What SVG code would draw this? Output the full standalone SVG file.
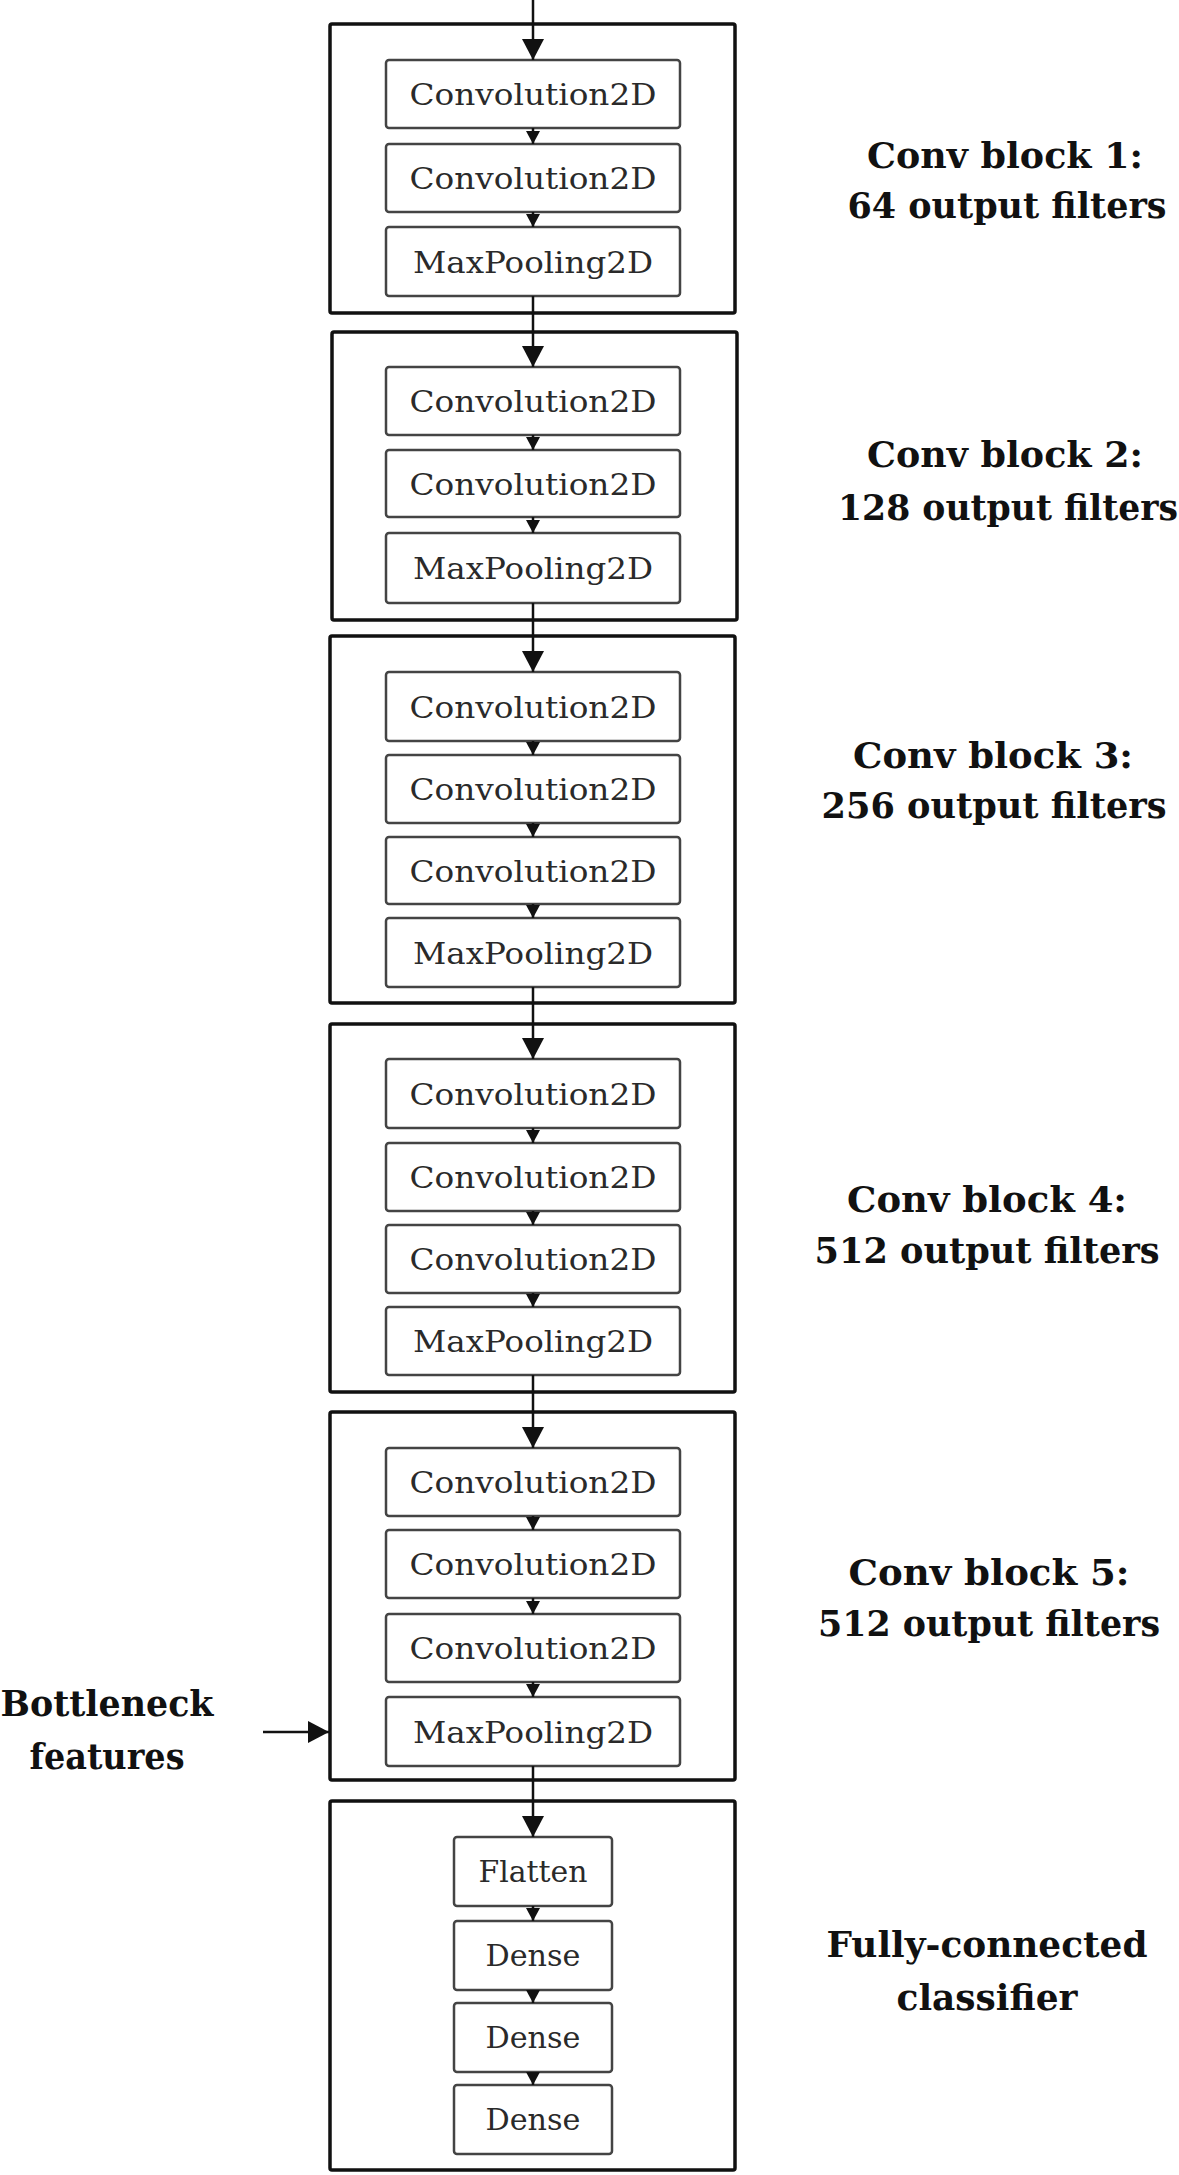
<svg xmlns="http://www.w3.org/2000/svg" width="1179" height="2175" viewBox="0 0 1179 2175">
<defs>
<style>
.outer{fill:#fff;stroke:#111;stroke-width:3.5}
.inner{fill:#fff;stroke:#444;stroke-width:2.5}
.lt{font-family:"DejaVu Serif","Liberation Serif",serif;font-size:29px;fill:#2a2a2a;text-anchor:middle}
.lab{font-family:"DejaVu Serif","Liberation Serif",serif;font-size:35px;font-weight:bold;fill:#111;text-anchor:middle}
.con{stroke:#111;stroke-width:2.5;fill:none}
</style>
<marker id="big" markerUnits="userSpaceOnUse" markerWidth="22" markerHeight="22" refX="21" refY="11" orient="auto" viewBox="0 0 22 22"><path d="M0,0 L21,11 L0,22 z" fill="#111"/></marker>
<marker id="small" markerUnits="userSpaceOnUse" markerWidth="13" markerHeight="14" refX="13" refY="7" orient="auto" viewBox="0 0 13 14"><path d="M0,0 L13,7 L0,14 z" fill="#111"/></marker>
</defs>
<rect width="1179" height="2175" fill="#fff"/>

<g id="block1">
<rect class="outer" x="330" y="24" width="405" height="289" rx="2"/>
<g id="b1n1"><rect class="inner" x="386" y="60" width="294" height="68" rx="3"/><text class="lt" x="533" y="105" textLength="247" lengthAdjust="spacingAndGlyphs">Convolution2D</text></g>
<g id="b1n2"><rect class="inner" x="386" y="144" width="294" height="68" rx="3"/><text class="lt" x="533" y="189" textLength="247" lengthAdjust="spacingAndGlyphs">Convolution2D</text></g>
<g id="b1n3"><rect class="inner" x="386" y="227" width="294" height="69" rx="3"/><text class="lt" x="533" y="273" textLength="240" lengthAdjust="spacingAndGlyphs">MaxPooling2D</text></g>
</g>

<g id="block2">
<rect class="outer" x="332" y="332" width="405" height="288" rx="2"/>
<g id="b2n1"><rect class="inner" x="386" y="367" width="294" height="68" rx="3"/><text class="lt" x="533" y="412" textLength="247" lengthAdjust="spacingAndGlyphs">Convolution2D</text></g>
<g id="b2n2"><rect class="inner" x="386" y="450" width="294" height="67" rx="3"/><text class="lt" x="533" y="495" textLength="247" lengthAdjust="spacingAndGlyphs">Convolution2D</text></g>
<g id="b2n3"><rect class="inner" x="386" y="533" width="294" height="70" rx="3"/><text class="lt" x="533" y="579" textLength="240" lengthAdjust="spacingAndGlyphs">MaxPooling2D</text></g>
</g>

<g id="block3">
<rect class="outer" x="330" y="636" width="405" height="367" rx="2"/>
<g id="b3n1"><rect class="inner" x="386" y="672" width="294" height="69" rx="3"/><text class="lt" x="533" y="718" textLength="247" lengthAdjust="spacingAndGlyphs">Convolution2D</text></g>
<g id="b3n2"><rect class="inner" x="386" y="755" width="294" height="68" rx="3"/><text class="lt" x="533" y="800" textLength="247" lengthAdjust="spacingAndGlyphs">Convolution2D</text></g>
<g id="b3n3"><rect class="inner" x="386" y="837" width="294" height="67" rx="3"/><text class="lt" x="533" y="882" textLength="247" lengthAdjust="spacingAndGlyphs">Convolution2D</text></g>
<g id="b3n4"><rect class="inner" x="386" y="918" width="294" height="69" rx="3"/><text class="lt" x="533" y="964" textLength="240" lengthAdjust="spacingAndGlyphs">MaxPooling2D</text></g>
</g>

<g id="block4">
<rect class="outer" x="330" y="1024" width="405" height="368" rx="2"/>
<g id="b4n1"><rect class="inner" x="386" y="1059" width="294" height="69" rx="3"/><text class="lt" x="533" y="1105" textLength="247" lengthAdjust="spacingAndGlyphs">Convolution2D</text></g>
<g id="b4n2"><rect class="inner" x="386" y="1143" width="294" height="68" rx="3"/><text class="lt" x="533" y="1188" textLength="247" lengthAdjust="spacingAndGlyphs">Convolution2D</text></g>
<g id="b4n3"><rect class="inner" x="386" y="1225" width="294" height="68" rx="3"/><text class="lt" x="533" y="1270" textLength="247" lengthAdjust="spacingAndGlyphs">Convolution2D</text></g>
<g id="b4n4"><rect class="inner" x="386" y="1307" width="294" height="68" rx="3"/><text class="lt" x="533" y="1352" textLength="240" lengthAdjust="spacingAndGlyphs">MaxPooling2D</text></g>
</g>

<g id="block5">
<rect class="outer" x="330" y="1412" width="405" height="368" rx="2"/>
<g id="b5n1"><rect class="inner" x="386" y="1448" width="294" height="68" rx="3"/><text class="lt" x="533" y="1493" textLength="247" lengthAdjust="spacingAndGlyphs">Convolution2D</text></g>
<g id="b5n2"><rect class="inner" x="386" y="1530" width="294" height="68" rx="3"/><text class="lt" x="533" y="1575" textLength="247" lengthAdjust="spacingAndGlyphs">Convolution2D</text></g>
<g id="b5n3"><rect class="inner" x="386" y="1614" width="294" height="68" rx="3"/><text class="lt" x="533" y="1659" textLength="247" lengthAdjust="spacingAndGlyphs">Convolution2D</text></g>
<g id="b5n4"><rect class="inner" x="386" y="1697" width="294" height="69" rx="3"/><text class="lt" x="533" y="1743" textLength="240" lengthAdjust="spacingAndGlyphs">MaxPooling2D</text></g>
</g>

<g id="block6">
<rect class="outer" x="330" y="1801" width="405" height="369" rx="2"/>
<g id="b6n1"><rect class="inner" x="454" y="1837" width="158" height="69" rx="3"/><text class="lt" x="533" y="1882" textLength="109" lengthAdjust="spacingAndGlyphs">Flatten</text></g>
<g id="b6n2"><rect class="inner" x="454" y="1921" width="158" height="69" rx="3"/><text class="lt" x="533" y="1966" textLength="95" lengthAdjust="spacingAndGlyphs">Dense</text></g>
<g id="b6n3"><rect class="inner" x="454" y="2003" width="158" height="69" rx="3"/><text class="lt" x="533" y="2048" textLength="95" lengthAdjust="spacingAndGlyphs">Dense</text></g>
<g id="b6n4"><rect class="inner" x="454" y="2085" width="158" height="69" rx="3"/><text class="lt" x="533" y="2130" textLength="95" lengthAdjust="spacingAndGlyphs">Dense</text></g>
</g>

<g id="connectors">
<line class="con" x1="533" y1="0" x2="533" y2="60" marker-end="url(#big)"/>
<line class="con" x1="533" y1="128" x2="533" y2="144" marker-end="url(#small)"/>
<line class="con" x1="533" y1="212" x2="533" y2="227" marker-end="url(#small)"/>
<line class="con" x1="533" y1="296" x2="533" y2="367" marker-end="url(#big)"/>
<line class="con" x1="533" y1="435" x2="533" y2="450" marker-end="url(#small)"/>
<line class="con" x1="533" y1="517" x2="533" y2="533" marker-end="url(#small)"/>
<line class="con" x1="533" y1="603" x2="533" y2="672" marker-end="url(#big)"/>
<line class="con" x1="533" y1="741" x2="533" y2="755" marker-end="url(#small)"/>
<line class="con" x1="533" y1="823" x2="533" y2="837" marker-end="url(#small)"/>
<line class="con" x1="533" y1="904" x2="533" y2="918" marker-end="url(#small)"/>
<line class="con" x1="533" y1="987" x2="533" y2="1059" marker-end="url(#big)"/>
<line class="con" x1="533" y1="1128" x2="533" y2="1143" marker-end="url(#small)"/>
<line class="con" x1="533" y1="1211" x2="533" y2="1225" marker-end="url(#small)"/>
<line class="con" x1="533" y1="1293" x2="533" y2="1307" marker-end="url(#small)"/>
<line class="con" x1="533" y1="1375" x2="533" y2="1448" marker-end="url(#big)"/>
<line class="con" x1="533" y1="1516" x2="533" y2="1530" marker-end="url(#small)"/>
<line class="con" x1="533" y1="1598" x2="533" y2="1614" marker-end="url(#small)"/>
<line class="con" x1="533" y1="1682" x2="533" y2="1697" marker-end="url(#small)"/>
<line class="con" x1="533" y1="1766" x2="533" y2="1837" marker-end="url(#big)"/>
<line class="con" x1="533" y1="1906" x2="533" y2="1921" marker-end="url(#small)"/>
<line class="con" x1="533" y1="1990" x2="533" y2="2003" marker-end="url(#small)"/>
<line class="con" x1="533" y1="2072" x2="533" y2="2085" marker-end="url(#small)"/>
<line class="con" x1="263" y1="1732" x2="329" y2="1732" marker-end="url(#big)"/>
</g>

<g id="labels">
<text class="lab" x="1005" y="168" textLength="276" lengthAdjust="spacingAndGlyphs">Conv block 1:</text>
<text class="lab" x="1007" y="218" textLength="319" lengthAdjust="spacingAndGlyphs">64 output filters</text>
<text class="lab" x="1005" y="467" textLength="276" lengthAdjust="spacingAndGlyphs">Conv block 2:</text>
<text class="lab" x="1008" y="520" textLength="340" lengthAdjust="spacingAndGlyphs">128 output filters</text>
<text class="lab" x="993" y="768" textLength="280" lengthAdjust="spacingAndGlyphs">Conv block 3:</text>
<text class="lab" x="994" y="818" textLength="345" lengthAdjust="spacingAndGlyphs">256 output filters</text>
<text class="lab" x="987" y="1212" textLength="280" lengthAdjust="spacingAndGlyphs">Conv block 4:</text>
<text class="lab" x="987" y="1263" textLength="345" lengthAdjust="spacingAndGlyphs">512 output filters</text>
<text class="lab" x="989" y="1585" textLength="281" lengthAdjust="spacingAndGlyphs">Conv block 5:</text>
<text class="lab" x="989" y="1636" textLength="342" lengthAdjust="spacingAndGlyphs">512 output filters</text>
<text class="lab" x="987" y="1957" textLength="321" lengthAdjust="spacingAndGlyphs">Fully-connected</text>
<text class="lab" x="987" y="2010" textLength="181" lengthAdjust="spacingAndGlyphs">classifier</text>
<text class="lab" x="107" y="1716" textLength="213" lengthAdjust="spacingAndGlyphs">Bottleneck</text>
<text class="lab" x="107" y="1769" textLength="155" lengthAdjust="spacingAndGlyphs">features</text>
</g>
</svg>
